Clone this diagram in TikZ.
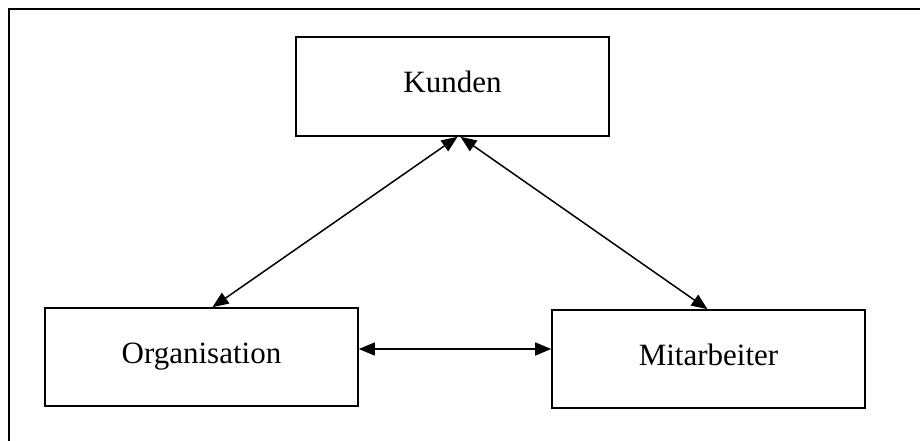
\documentclass[tikz,border=0pt]{standalone}
\usepackage{fontspec}
\setmainfont{Liberation Serif}
\usepackage{tikz}
\usetikzlibrary{arrows.meta}

\begin{document}
\begin{tikzpicture}
		[x=1pt, y=-1pt, line width=1.6pt,
		 box/.style = {draw, rectangle, minimum width=313pt, minimum height=98pt,
		               font=\fontsize{31}{37}\selectfont, text height=22pt, text depth=10pt},
		 link/.style = {{Triangle[length=16pt,width=13pt]}-{Triangle[length=16pt,width=13pt]}, line width=1.5pt}]
        \useasboundingbox (0,0) rectangle (920,441);
        % frame
        \draw[line width=2.6pt] (9,960) -- (9,9) -- (960,9);

        \node[box, minimum height=99pt] (kunden) at (452.5,86.5) {Kunden};
        \node[box] (org) at (201.5,357) {Organisation};
        \node[box] (mit) at (708.5,359) {Mitarbeiter};

        \draw[link] ([xshift=5pt]kunden.south) -- ([xshift=11pt]org.north);
        \draw[link] ([xshift=8pt]kunden.south) -- ([xshift=-1pt]mit.north);
        \draw[link] ([yshift=8pt]org.east) -- ([yshift=8pt]org.east -| mit.west);
	\end{tikzpicture}
\end{document}
